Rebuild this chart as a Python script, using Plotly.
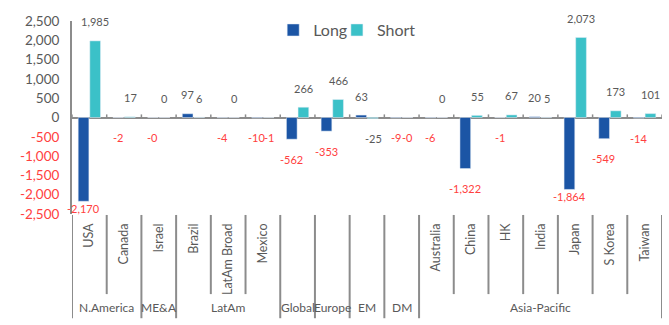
import plotly.graph_objects as go

# categories (internal keys) and the labels shown under the axis
countries = ["USA", "Canada", "Israel", "Brazil", "LatAm Broad", "Mexico",
             "Global", "Europe", "EM", "DM",
             "Australia", "China", "HK", "India", "Japan", "S Korea", "Taiwan"]
tick_labels = ["USA", "Canada", "Israel", "Brazil", "LatAm Broad", "Mexico",
               "", "", "", "",
               "Australia", "China", "HK", "India", "Japan", "S Korea", "Taiwan"]

groups = ["N.America", "ME&A", "LatAm", "Global", "Europe", "EM", "DM", "Asia-Pacific"]
group_sizes = [2, 1, 3, 1, 1, 1, 1, 7]

long_vals = [-2170, -2, -0.2, 97, -4, -10, -562, -353, 63, -9,
             -6, -1322, -1, 20, -1864, -549, -14]
short_vals = [1985, 17, 0, 6, 0, -1, 266, 466, -25, -0.2,
              0, 55, 67, 5, 2073, 173, 101]

BLUE = "#1B55A5"
CYAN = "#3BC1C8"
RED = "#FF4040"
GREY = "#595959"
LINE = "#8C8C8C"
FONT = "Lato"

# labels that the source prints in grey even though negative
grey_labels = {("Short", "EM")}

fig = go.Figure()
fig.add_trace(go.Bar(name="Long", x=countries, y=long_vals, marker_color=BLUE,
                     legend="legend"))
fig.add_trace(go.Bar(name="Short", x=countries, y=short_vals, marker_color=CYAN,
                     legend="legend2"))

annotations = []
for name, vals, dx in (("Long", long_vals, -6), ("Short", short_vals, 6)):
    for c, v in zip(countries, vals):
        if v >= 0:
            shift = 19
        elif v > -1500:
            shift = -20
        else:
            shift = -7
        color = RED if v < 0 and (name, c) not in grey_labels else GREY
        annotations.append(dict(
            x=c, y=v, xref="x", yref="y", text=f"{v:,.0f}", showarrow=False,
            xshift=dx, yshift=shift, font=dict(size=11, color=color, family=FONT)
        ))

# group labels and separators under the axis
shapes = []
start = 0
bounds = [0]
for g, n in zip(groups, group_sizes):
    annotations.append(dict(
        x=start + (n - 1) / 2, y=-0.482, xref="x", yref="paper", text=g,
        xanchor="center", yanchor="middle",
        showarrow=False, font=dict(size=12, color=GREY, family=FONT)
    ))
    start += n
    bounds.append(start)

for i in range(len(countries) + 1):
    full = i in bounds
    shapes.append(dict(
        type="line", xref="x", yref="paper", x0=i - 0.5, x1=i - 0.5,
        y0=-0.005, y1=-0.54 if full else -0.415,
        line=dict(color=LINE, width=2)
    ))
    # small tick marks on the zero line
    shapes.append(dict(
        type="line", xref="x", yref="y", x0=i - 0.5, x1=i - 0.5,
        y0=0, y1=80, line=dict(color=LINE, width=1.5)
    ))

yticks = list(range(-2500, 2501, 500))
yticktext = [f"<span style='color:{RED}'>{t:,}</span>" if t < 0 else f"{t:,}" for t in yticks]

legend_style = dict(orientation="h", y=0.953, xanchor="left", yanchor="middle",
                    font=dict(size=16, color=GREY), bgcolor="rgba(0,0,0,0)")

fig.update_layout(
    width=669, height=325,
    margin=dict(l=72, r=7, t=21, b=111),
    paper_bgcolor="white", plot_bgcolor="white",
    barmode="group", bargap=0.33, bargroupgap=0.08,
    font=dict(family=FONT, color=GREY),
    showlegend=True,
    legend=dict(x=0.341, **legend_style),
    legend2=dict(x=0.449, **legend_style),
    annotations=annotations,
    shapes=shapes,
    xaxis=dict(
        tickvals=countries, ticktext=tick_labels, tickangle=-90,
        tickfont=dict(size=12.5, color=GREY), showgrid=False, showline=False,
        ticks="", range=[-0.5, len(countries) - 0.5], ticklabelstandoff=6
    ),
    yaxis=dict(
        range=[-2500, 2500], tickvals=yticks, ticktext=yticktext,
        tickfont=dict(size=13.5, color=GREY), showgrid=False,
        showline=True, linecolor=LINE, linewidth=2,
        zeroline=True, zerolinecolor=LINE, zerolinewidth=2,
        ticks="", ticklabelstandoff=8
    ),
)

fig.write_html("out.html", config={"displayModeBar": False},
               post_script="document.body.style.margin = '0';")
